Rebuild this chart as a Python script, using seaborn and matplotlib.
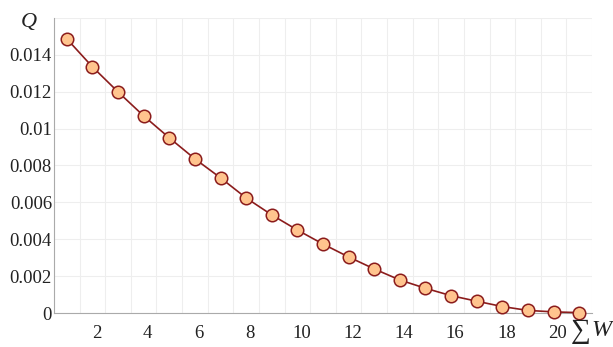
import numpy as np
import matplotlib
matplotlib.use('Agg')
import matplotlib.pyplot as plt
import matplotlib.transforms as mtransforms
import seaborn as sns

# data
sum_w = list(range(1, 22))
q_vals = [0.01487, 0.01335, 0.01199, 0.01069, 0.00950, 0.00836, 0.00733,
          0.00624, 0.00532, 0.00450, 0.00374, 0.00304, 0.00239, 0.00179,
          0.00134, 0.00094, 0.00064, 0.00035, 0.00014, 0.00006, 0.00002]
x_ticks = [2, 4, 6, 8, 10, 12, 14, 16, 18, 20]
y_ticks = [0, 0.002, 0.004, 0.006, 0.008, 0.01, 0.012, 0.014, 0.016]
y_labels = ['0', '0.002', '0.004', '0.006', '0.008', '0.01', '0.012', '0.014', '']

sns.set_style('white')
plt.rcParams['font.family'] = ['Liberation Serif', 'DejaVu Serif']

fig = plt.figure(figsize=(6.13, 3.47), dpi=100)
ax = fig.add_axes([54 / 613, 1 - 313 / 347, (592 - 54) / 613, (313 - 18) / 347])

sns.lineplot(x=sum_w, y=q_vals, ax=ax, color='#8B1C1C', lw=1.2, marker='o',
             markersize=9, markerfacecolor='#FFC48E', markeredgecolor='#8B1C1C',
             markeredgewidth=1.1, clip_on=False, zorder=5)

ax.set_xlim(0.5, 21.5)
ax.set_ylim(0, 0.016)

ax.set_xticks(x_ticks)
ax.set_xticklabels([str(t) for t in x_ticks])
ax.set_xticks(np.arange(0.5, 21.6, 1), minor=True)
ax.tick_params(axis='x', which='major', length=0, pad=9, labelsize=13.5, labelcolor='#222222')
ax.tick_params(axis='x', which='minor', length=3, width=0.8, color='#999999', direction='out')
offset = mtransforms.ScaledTranslation(4 / 100, 0, fig.dpi_scale_trans)
for lab in ax.get_xticklabels():
    lab.set_transform(lab.get_transform() + offset)

ax.set_yticks(y_ticks)
ax.set_yticklabels(y_labels)
ax.tick_params(axis='y', which='major', length=3, width=0.8, color='#999999',
               direction='out', pad=-1.5, labelsize=13.5, labelcolor='#222222')

ax.grid(False)
ax.grid(True, axis='x', which='minor', color='#EEEEEE', lw=0.8)
ax.grid(True, axis='y', which='major', color='#EEEEEE', lw=0.8)

for side in ['top', 'right']:
    ax.spines[side].set_visible(False)
for side in ['left', 'bottom']:
    ax.spines[side].set_color('#AAAAAA')
    ax.spines[side].set_linewidth(0.8)

fig.text(29 / 613, 1 - 22 / 347, 'Q', fontsize=16, style='italic',
         ha='center', va='center', color='#222222')
fig.text(581 / 613, 1 - 331 / 347, '\u2211', fontsize=20,
         ha='center', va='center', color='#222222')
fig.text(602 / 613, 1 - 330 / 347, 'W', fontsize=17.5, style='italic',
         ha='center', va='center', color='#222222')

fig.savefig('out.png', dpi=100)
